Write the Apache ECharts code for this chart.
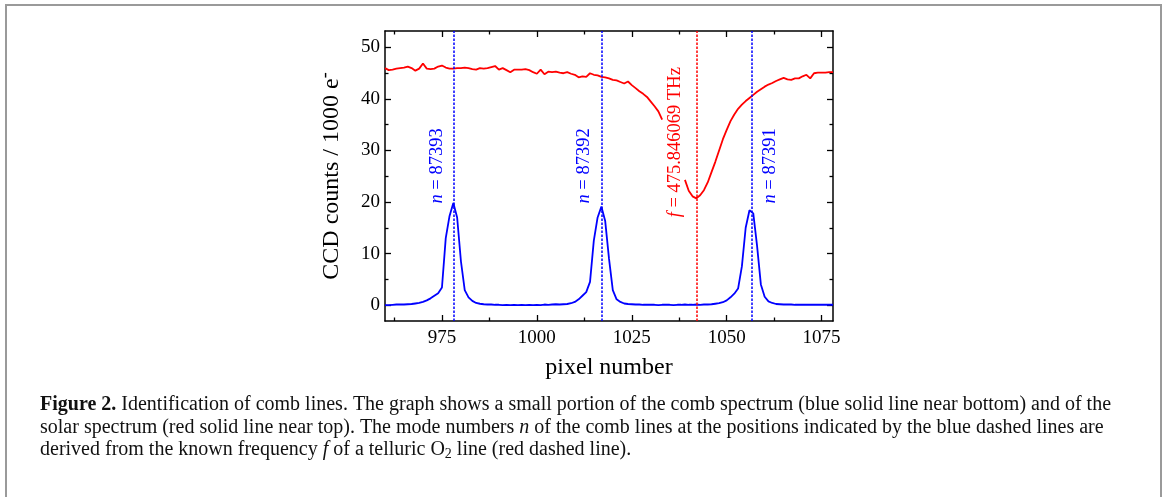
<!DOCTYPE html>
<html><head><meta charset="utf-8">
<script src="https://cdn.jsdelivr.net/npm/echarts@6/dist/echarts.min.js"></script>
<style>html,body{margin:0;padding:0;background:#fff}#c{width:1168px;height:497px}</style>
</head><body><div id="c"></div>
<script>
// ---- data ----
const pixelStart = 960;
const combCounts = [
  0.0, 0.0, 0.05, 0.1, 0.1, 0.1, 0.15, 0.2, 0.3, 0.4,
  0.6, 0.9, 1.3, 1.8, 2.3, 3.4, 13.0, 17.3, 19.8, 17.0,
  8.5, 2.9, 1.5, 0.8, 0.4, 0.25, 0.15, 0.1, 0.1, 0.05,
  0.05, 0.0, 0.05, 0.0, 0.05, 0.0, 0.05, 0.0, 0.05, 0.0,
  0.05, 0.0, 0.1, 0.05, 0.1, 0.15, 0.1, 0.15, 0.2, 0.35,
  0.6, 1.1, 1.8, 2.5, 4.5, 12.5, 17.0, 19.1, 16.3, 9.0,
  2.9, 1.1, 0.6, 0.3, 0.2, 0.15, 0.1, 0.1, 0.05, 0.05,
  0.05, 0.05, 0.0, 0.05, 0.05, 0.05, 0.0, 0.05, 0.05, 0.1,
  0.05, 0.05, 0.1, 0.05, 0.1, 0.1, 0.15, 0.25, 0.35, 0.55,
  0.9, 1.5, 2.2, 3.2, 7.5, 15.0, 18.4, 17.8, 11.5, 4.0,
  1.6, 0.7, 0.4, 0.2, 0.15, 0.1, 0.1, 0.1, 0.05, 0.05,
  0.05, 0.05, 0.05, 0.05, 0.05, 0.05, 0.05, 0.05, 0.05
];
const solarCounts = [
  46.0, 45.6, 45.7, 45.9, 46.0, 46.1, 46.3, 46.0, 45.5, 45.9,
  46.9, 45.9, 45.8, 45.9, 46.3, 46.5, 46.1, 45.9, 45.9, 46.0,
  46.0, 46.1, 46.0, 45.8, 45.7, 46.0, 45.9, 46.0, 46.2, 46.4,
  45.7, 46.0, 45.6, 45.2, 45.7, 45.7, 45.7, 45.8, 45.6, 45.2,
  44.9, 45.7, 44.8, 45.3, 45.2, 45.3, 45.1, 45.0, 45.2, 44.9,
  44.7, 44.2, 44.4, 44.3, 45.0, 44.7, 44.6, 44.3, 44.2, 44.0,
  43.7, 43.6, 43.3, 43.0, 43.4, 42.7, 42.1, 41.5, 41.0, 40.4,
  39.5, 38.6, 37.6, 36.0, null, null, null, null, null, 24.3,
  22.2, 21.1, 20.7, 21.3, 22.3, 23.8, 25.8, 27.8, 30.0, 32.2,
  34.0, 35.7, 37.0, 38.1, 38.9, 39.6, 40.2, 40.8, 41.4, 41.9,
  42.4, 42.8, 43.1, 43.5, 43.8, 44.1, 43.8, 43.7, 44.0, 44.0,
  44.4, 44.7, 44.0, 45.0, 45.1, 45.1, 45.1, 45.2, 45.2
];
const combLinePixels = [978.1, 1017.0, 1056.6];
const combModeNumbers = ['87393', '87392', '87391'];
const o2LinePixel = 1042.2;
const o2Label = '475.846069 THz';
const xMajorTicks = [975, 1000, 1025, 1050, 1075];
const xMinorTicks = [962.5, 987.5, 1012.5, 1037.5, 1062.5];
const yMajorTicks = [0, 10, 20, 30, 40, 50];
const yMinorTicks = [5, 15, 25, 35, 45];
const xRange = [960, 1078];
const yRange = [-3.1, 53.2];

// ---- build ----
const combData = combCounts.map((v, i) => [pixelStart + i, v]);
const solarData = solarCounts.map((v, i) => [pixelStart + i, v]);

const FONT = '"Liberation Serif", "Times New Roman", serif';
const axisLineStyle = { color: '#000', width: 1.5 };
const plain = v => String(v);

function xAx(pos, ticks, len, showLine, labels, extra) {
  return Object.assign({
    type: 'value', position: pos, min: xRange[0], max: xRange[1],
    axisLine: { show: showLine, onZero: false, lineStyle: axisLineStyle },
    axisTick: { show: true, inside: true, length: len, customValues: ticks, lineStyle: { color: '#000', width: 1.3 } },
    axisLabel: labels ? { show: true, customValues: ticks, formatter: plain, color: '#000', fontFamily: FONT, fontSize: 19, margin: 8 } : { show: false },
    splitLine: { show: false }
  }, extra || {});
}
function yAx(pos, ticks, len, showLine, labels, extra) {
  return Object.assign({
    type: 'value', position: pos, min: yRange[0], max: yRange[1],
    axisLine: { show: showLine, onZero: false, lineStyle: axisLineStyle },
    axisTick: { show: true, inside: true, length: len, customValues: ticks, lineStyle: { color: '#000', width: 1.3 } },
    axisLabel: labels ? { show: true, customValues: ticks, formatter: plain, color: '#000', fontFamily: FONT, fontSize: 19, margin: 5 } : { show: false },
    splitLine: { show: false }
  }, extra || {});
}

const chart = echarts.init(document.getElementById('c'), null, { renderer: 'canvas' });
chart.setOption({
  animation: false,
  backgroundColor: '#fff',
  grid: { left: 385, right: 335, top: 31, bottom: 176, containLabel: false },
  xAxis: [
    xAx('bottom', xMajorTicks, 6, true, true, {
      name: 'pixel number', nameLocation: 'middle', nameGap: 35,
      nameTextStyle: { color: '#000', fontFamily: FONT, fontSize: 24 }
    }),
    xAx('bottom', xMinorTicks, 3.5, false, false),
    xAx('top', xMajorTicks, 6, true, false),
    xAx('top', xMinorTicks, 3.5, false, false)
  ],
  yAxis: [
    yAx('left', yMajorTicks, 6, true, true, {
      name: 'CCD counts / 1000 e{sup|-}', nameLocation: 'middle', nameGap: 37,
      nameTextStyle: { color: '#000', fontFamily: FONT, fontSize: 24,
        rich: { sup: { fontFamily: FONT, fontSize: 18, color: '#000', verticalAlign: 'top', lineHeight: 32 } } }
    }),
    yAx('left', yMinorTicks, 3.5, false, false),
    yAx('right', yMajorTicks, 6, true, false),
    yAx('right', yMinorTicks, 3.5, false, false)
  ],
  series: [
    {
      type: 'line', name: 'solar', data: solarData, xAxisIndex: 0, yAxisIndex: 0,
      showSymbol: false, connectNulls: false,
      lineStyle: { color: '#ff0000', width: 1.8 }, z: 3,
      markLine: {
        silent: true, symbol: 'none', label: { show: false },
        lineStyle: { color: '#ff0000', type: [2.5, 1.5], width: 1.5 },
        data: [{ xAxis: o2LinePixel }]
      }
    },
    {
      type: 'line', name: 'comb', data: combData, xAxisIndex: 0, yAxisIndex: 0,
      showSymbol: false,
      lineStyle: { color: '#0000ff', width: 1.8 }, z: 3,
      markLine: {
        silent: true, symbol: 'none', label: { show: false },
        lineStyle: { color: '#0000ff', type: [2.5, 1.5], width: 1.5 },
        data: combLinePixels.map(p => ({ xAxis: p }))
      }
    }
  ]
});

// labels anchored to the mark lines via the chart's own scales
const labelY = 27;       // data units, vertical centre of the mode labels
const labelYf = 31.6;
const labelOffsets = [-17, -17.5, 18]; // px from the line
function px(x, y) { return chart.convertToPixel({ xAxisIndex: 0, yAxisIndex: 0 }, [x, y]); }

const graphics = [];
const lblSize = 18.5;
combLinePixels.forEach((p, i) => {
  const pt = px(p, labelY);
  graphics.push({
    type: 'text', x: pt[0] + labelOffsets[i], y: pt[1], rotation: Math.PI / 2, z: 10,
    style: {
      text: '{i|n} = ' + combModeNumbers[i], fill: '#0000ff', font: lblSize + 'px ' + FONT,
      align: 'center', verticalAlign: 'middle',
      rich: { i: { fontStyle: 'italic', fontFamily: FONT, fontSize: lblSize, fill: '#0000ff' } }
    }
  });
});
const fpt = px(o2LinePixel, labelYf);
graphics.push({
  type: 'text', x: fpt[0] - 22, y: fpt[1], rotation: Math.PI / 2, z: 10,
  style: {
    text: '{i|f} = ' + o2Label, fill: '#ff0000', font: lblSize + 'px ' + FONT,
    align: 'center', verticalAlign: 'middle',
    rich: { i: { fontStyle: 'italic', fontFamily: FONT, fontSize: lblSize, fill: '#ff0000' } }
  }
});

// figure frame and caption
const captionLines = [
  '{b|Figure 2.} Identification of comb lines. The graph shows a small portion of the comb spectrum (blue solid line near bottom) and of the',
  'solar spectrum (red solid line near top). The mode numbers {i|n} of the comb lines at the positions indicated by the blue dashed lines are',
  'derived from the known frequency {i|f} of a telluric O{sub|2} line (red dashed line).'
];
graphics.push({
  type: 'rect', shape: { x: 6, y: 5, width: 1155, height: 600 }, z: 0,
  style: { fill: 'none', stroke: '#9a9a9a', lineWidth: 2 }
});
const capSize = 20;
captionLines.forEach((t, i) => {
  graphics.push({
    type: 'text', x: 40, y: 405 + i * 22.3, z: 10,
    style: {
      text: t, fill: '#111', font: capSize + 'px ' + FONT, align: 'left', verticalAlign: 'middle',
      rich: {
        b: { fontWeight: 'bold', fontFamily: FONT, fontSize: capSize, fill: '#111', lineHeight: 24 },
        i: { fontStyle: 'italic', fontFamily: FONT, fontSize: capSize, fill: '#111', lineHeight: 24 },
        sub: { fontFamily: FONT, fontSize: 14, fill: '#111', verticalAlign: 'bottom', lineHeight: 14 }
      }
    }
  });
});
chart.setOption({ graphic: graphics });
</script>
</body></html>
